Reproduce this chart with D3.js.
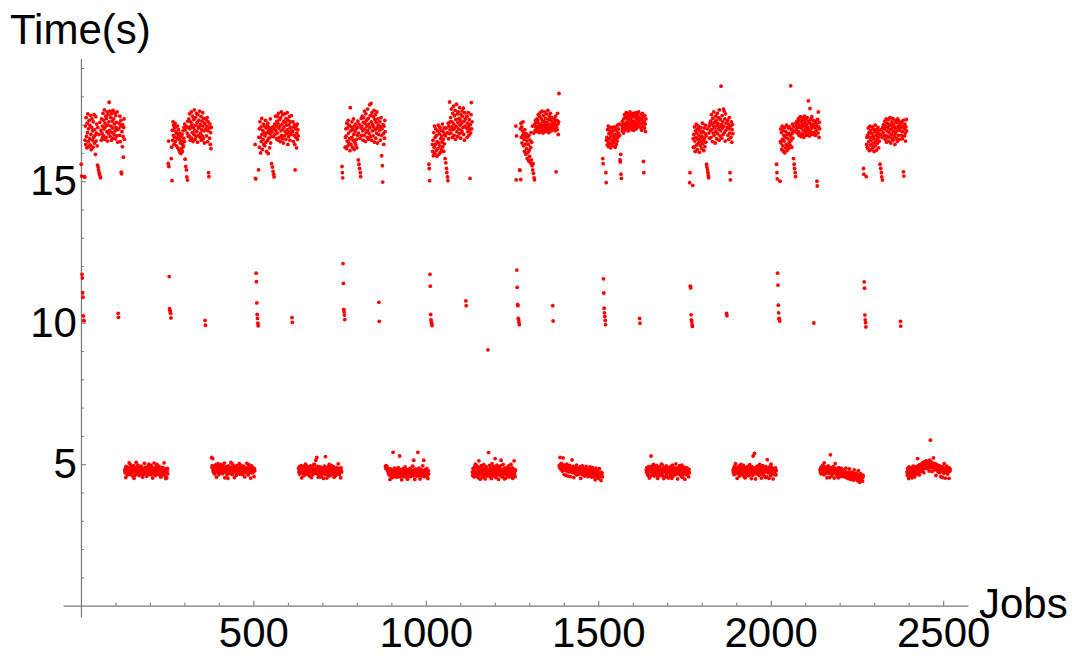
<!DOCTYPE html>
<html>
<head>
<meta charset="utf-8">
<script src="https://cdn.jsdelivr.net/npm/d3@7"></script>
<style>
  html, body { margin: 0; padding: 0; background: #fff; }
  svg { display: block; }
  text { font-family: "Liberation Sans", Arial, Helvetica, sans-serif; }
</style>
</head>
<body>
<svg id="chart" width="1072" height="658"></svg>
<script>
// Job runtimes (seconds). Jobs alternate between a slow batch (~16.5 s,
// with a few runs finishing near 15 s or 10 s) and a fast batch (~4.8 s).
// Each batch is 126 consecutive jobs; the first job number of each batch is listed.
const slowStartJob = [1, 253, 505, 757, 1009, 1261, 1513, 1765, 2017, 2269];
const fastStartJob = [127, 379, 631, 883, 1135, 1387, 1639, 1891, 2143, 2395];

const slowBatches = [
  [15.60,15.18,11.71,11.58,11.06,10.90,10.24,10.07,10.08,15.16,15.14,16.45,
   16.95,16.30,17.25,16.58,16.18,17.05,16.72,17.38,16.40,16.85,16.22,17.15,16.50,16.98,16.28,17.32,16.65,16.12,16.90,17.20,16.45,16.78,16.20,17.10,16.55,17.35,16.35,16.82,16.62,15.95,17.28,16.42,16.70,17.02,16.25,
   15.57,16.90,15.50,15.40,16.65,15.30,15.24,17.08,15.16,15.12,16.80,16.45,17.20,16.70,16.95,16.55,
   17.40,16.62,17.15,16.85,17.52,16.48,17.05,16.92,17.30,16.55,17.22,16.75,17.45,16.42,16.98,17.35,16.68,17.10,17.79,16.80,17.48,16.58,17.25,16.95,16.45,17.38,16.72,17.12,16.88,17.50,16.52,17.20,16.65,17.02,17.42,16.78,16.50,17.32,16.90,17.08,16.60,17.45,16.82,16.38,
   10.33,10.19,16.85,17.05,16.62,17.30,16.40,16.95,17.15,15.32,15.26,16.75,16.22,17.00,16.58,15.85,16.90,17.20,16.48],
  [15.63,16.42,15.52,11.63,10.50,10.44,10.38,10.33,10.17,15.80,16.20,15.02,
   16.80,16.45,17.10,16.62,16.98,16.30,16.88,16.55,17.05,16.40,16.75,16.92,16.25,16.68,16.50,16.95,16.18,16.60,16.82,16.10,16.48,16.70,16.02,16.35,16.58,15.98,16.42,16.15,16.65,16.05,16.30,16.78,16.22,16.52,16.90,16.40,17.02,
   15.78,16.82,15.52,16.95,15.40,15.15,16.70,15.04,17.12,16.58,16.90,
   17.20,16.60,17.38,16.85,16.45,17.10,16.95,17.45,16.52,17.02,16.72,17.30,16.40,16.90,17.18,16.65,17.52,16.80,16.48,17.25,16.98,16.58,17.40,16.75,17.08,16.38,17.35,16.88,16.62,17.15,16.92,17.48,16.55,17.00,16.70,17.28,16.45,16.82,17.12,16.60,17.42,16.95,16.50,17.22,16.78,16.35,17.05,
   10.08,9.91,16.85,17.18,16.60,16.95,17.25,16.40,16.78,17.10,15.30,15.16,16.88,16.52,17.02,16.30,16.72,16.15,16.90],
  [16.30,15.10,15.08,11.75,11.45,10.70,10.29,10.15,9.98,9.89,15.40,16.55,
   16.85,16.20,17.10,16.55,16.00,16.92,16.40,17.22,16.65,16.12,16.80,16.48,17.02,16.30,16.72,16.95,16.25,16.60,17.15,16.38,16.88,16.05,16.70,16.98,16.45,17.05,15.98,16.78,16.52,16.90,16.18,16.68,17.20,16.35,16.82,16.58,
   15.62,16.74,15.50,16.92,15.35,16.58,15.25,15.15,16.85,17.02,16.66,17.30,16.80,16.95,16.50,17.12,
   17.30,16.70,17.05,16.45,17.40,16.88,16.55,17.18,16.95,16.40,17.25,16.78,17.45,16.62,17.02,16.50,17.35,16.85,16.35,17.12,16.92,16.60,17.38,16.75,17.08,16.48,17.22,16.98,16.68,17.42,16.82,16.30,17.15,16.58,17.00,16.72,17.28,16.45,16.90,17.10,16.65,17.32,16.80,
   10.18,10.01,16.75,17.10,16.40,16.92,16.62,17.00,16.30,15.40,16.85,16.55,16.95,16.18,16.70,17.02,16.48,16.82,16.60],
  [15.52,15.30,15.12,12.09,11.39,10.47,10.38,10.27,10.11,16.20,16.55,16.85,
   16.60,16.15,17.05,16.42,16.88,16.25,17.15,16.70,16.35,16.98,16.50,16.08,17.60,16.78,16.30,16.92,16.55,17.10,16.20,16.82,16.45,17.20,16.65,16.12,16.95,16.38,16.75,17.02,16.28,16.85,16.48,16.18,16.90,16.62,17.12,
   15.75,16.70,15.60,17.00,15.45,16.52,15.30,15.16,16.88,17.22,16.62,16.95,17.30,16.78,16.45,17.08,
   17.25,16.62,17.48,16.85,17.05,16.40,17.38,16.72,17.15,16.95,16.55,17.55,16.80,17.22,16.48,17.02,16.68,17.70,16.90,17.32,16.58,17.75,17.10,16.45,17.42,16.78,17.00,16.60,17.28,16.92,17.50,16.38,17.18,16.82,17.35,16.52,17.08,16.70,17.45,16.88,16.35,17.20,16.98,16.65,
   10.72,10.05,16.80,17.10,16.45,16.92,17.25,16.62,15.90,16.85,15.55,14.97,17.00,16.68,16.30,16.95,16.52,17.15,16.75],
  [15.60,15.45,15.02,11.71,11.29,10.29,10.10,10.02,9.96,9.90,16.30,16.05,
   16.45,15.90,16.72,16.20,16.95,15.98,16.55,16.30,16.85,16.08,16.62,15.88,16.40,16.78,16.15,16.98,16.35,15.95,16.68,16.25,16.90,16.02,16.50,16.80,16.12,16.60,16.38,17.02,16.22,16.75,16.48,16.05,16.88,16.32,16.65,
   15.80,16.60,15.65,16.88,15.45,15.30,16.72,15.15,15.02,17.05,16.50,16.95,16.68,17.80,16.82,17.10,
   17.25,16.70,17.55,16.92,17.10,16.55,17.40,16.82,17.65,17.02,16.62,17.32,16.88,17.50,16.48,17.18,16.95,17.72,16.75,17.38,16.58,17.08,17.45,16.85,17.22,16.68,17.60,16.98,17.15,16.52,17.35,16.80,17.05,17.48,16.72,17.28,16.90,17.58,16.65,17.12,16.45,17.42,16.95,17.20,
   10.77,10.60,16.88,17.30,16.55,17.05,16.75,17.42,16.92,16.62,17.18,16.82,15.10,17.00,16.70,17.35,17.78,16.85,17.10],
  [16.95,15.05,16.60,11.86,11.25,10.65,10.60,10.15,10.10,10.02,9.93,15.40,
   15.38,16.85,15.06,17.05,16.55,16.92,16.35,16.78,16.62,17.10,16.25,16.70,16.48,16.05,16.82,16.30,16.58,15.95,16.68,16.15,16.42,15.80,16.55,16.02,16.30,15.72,16.62,16.10,15.88,16.45,15.65,16.20,16.72,15.75,16.38,
   15.55,16.95,15.40,15.62,15.28,16.70,15.12,15.05,17.02,16.80,17.15,16.92,17.08,16.75,17.20,16.88,
   17.15,16.82,17.35,16.95,17.05,16.72,17.28,16.88,17.42,17.00,16.78,17.20,16.92,17.48,16.85,17.10,16.70,17.32,16.98,17.12,16.80,17.45,16.90,17.22,17.02,16.75,17.38,16.95,17.08,16.82,17.50,16.88,17.18,16.72,17.30,17.00,16.85,17.40,16.98,17.15,16.78,17.25,16.92,17.05,
   10.60,10.06,17.05,16.85,17.22,16.98,17.12,16.78,17.30,17.00,15.33,16.90,17.15,16.82,17.40,17.02,16.65,17.10,18.10],
  [15.80,15.62,11.55,11.05,10.51,10.35,10.22,10.08,9.93,15.30,14.95,16.45,
   16.55,16.28,16.82,16.40,16.95,16.22,16.68,16.50,16.85,16.32,16.75,16.18,16.60,16.90,16.35,16.72,16.45,16.25,16.80,16.58,16.38,16.92,16.48,16.65,16.20,16.88,16.52,16.30,16.78,16.62,16.42,16.98,16.55,16.70,16.85,16.62,17.02,
   16.62,15.75,15.68,15.95,15.25,15.10,16.98,16.78,17.12,16.88,17.02,16.70,
   17.20,16.88,17.35,17.02,16.80,17.28,16.95,17.42,17.08,16.85,17.22,16.98,17.38,16.78,17.15,17.30,16.92,17.05,17.45,16.88,17.18,17.00,17.35,16.82,17.25,17.10,16.95,17.40,17.02,16.80,17.32,17.12,16.90,17.28,17.05,17.42,16.85,17.20,16.98,17.35,17.08,16.92,17.25,17.45,17.02,17.15,
   10.15,9.98,17.22,16.90,17.35,17.05,16.80,17.18,17.40,16.95,17.28,15.70,15.30,17.10,16.88,17.32,17.02,16.75,17.20],
  [14.95,15.30,11.29,11.23,10.28,10.10,10.04,9.93,9.87,14.85,16.50,16.20,
   16.65,16.20,16.92,16.42,16.05,16.78,16.55,17.02,16.28,16.70,16.12,16.85,16.48,16.95,16.35,16.62,16.02,16.80,16.50,16.25,16.90,16.40,16.72,16.15,16.58,17.05,16.32,16.75,16.45,16.08,16.88,16.52,16.22,16.68,16.98,16.38,16.60,
   15.60,15.50,16.85,15.40,15.30,15.20,15.12,16.70,16.95,16.52,17.05,16.80,
   17.12,16.55,17.35,16.82,17.02,16.40,17.22,16.70,16.95,17.45,16.62,17.08,16.88,16.35,17.30,16.75,17.15,16.50,16.98,17.40,16.68,17.05,16.85,17.25,16.45,17.52,16.92,16.60,17.18,16.78,18.36,17.00,16.52,17.32,16.88,17.10,16.65,17.55,16.95,17.48,16.72,17.20,16.42,17.38,16.80,17.05,
   10.33,10.25,16.90,17.15,16.62,17.02,16.48,16.85,17.25,16.70,15.30,15.05,16.95,16.55,17.10,16.38,16.82,17.00,16.68],
  [15.60,15.30,15.08,11.75,11.33,10.62,10.35,10.15,10.14,10.06,15.00,16.40,
   16.85,16.35,16.72,16.12,16.95,16.48,16.25,16.80,16.05,16.62,16.42,16.90,16.00,16.55,16.18,16.75,16.30,16.98,16.08,16.65,16.22,16.50,16.88,16.15,16.70,16.38,16.92,16.28,16.60,18.37,16.45,16.82,16.20,16.68,17.02,16.52,16.78,
   15.80,16.92,15.60,15.45,16.75,15.30,15.16,17.05,16.82,16.98,17.12,16.70,16.90,
   17.05,16.75,17.22,16.62,16.98,17.15,16.70,17.28,16.88,16.58,17.10,16.92,17.25,16.65,17.02,16.80,17.18,16.55,16.95,17.30,16.72,17.08,16.85,17.20,16.62,17.00,16.78,17.25,16.90,16.68,17.84,17.12,16.82,16.60,17.05,17.57,16.75,17.18,16.95,16.65,17.28,16.88,17.02,16.72,17.15,
   16.65,9.99,16.95,16.72,17.12,16.88,16.62,17.05,16.80,16.98,15.00,14.83,17.18,16.70,17.45,16.92,16.55,17.08,16.85],
  [15.45,15.25,11.44,11.22,10.27,10.10,10.00,9.85,15.16,16.30,16.55,16.20,
   16.62,16.15,16.88,16.40,16.72,16.08,16.55,16.95,16.28,16.80,16.45,16.12,16.68,16.92,16.32,16.58,16.20,16.85,16.50,16.05,16.75,16.38,16.98,16.25,16.62,16.82,16.10,16.48,16.70,16.35,16.90,16.55,16.18,16.78,16.42,16.65,
   15.60,16.65,15.45,16.82,15.30,15.15,16.55,15.04,16.90,16.72,17.00,16.60,16.85,
   16.85,17.12,16.48,16.95,16.62,17.20,16.38,16.78,17.05,16.55,16.90,17.18,16.42,16.72,17.00,16.58,17.25,16.82,16.35,16.98,16.65,17.10,16.50,16.88,17.22,16.45,16.75,17.02,16.60,16.92,16.30,17.15,16.70,16.85,16.52,17.08,16.78,16.40,17.20,16.95,16.62,16.88,17.12,16.48,16.80,17.02,
   10.05,9.88,16.90,16.62,17.08,16.75,16.50,16.95,17.15,15.33,15.18,16.85,16.60,17.02,16.70,16.42,16.92,17.18,16.78]
];

const fastBatches = [
  [4.78,4.70,4.85,4.53,4.92,4.74,4.81,4.62,4.77,4.88,4.69,4.83,4.72,5.05,4.76,4.64,4.98,4.79,4.71,4.90,4.67,4.80,4.75,4.58,4.84,4.73,4.95,4.50,4.82,4.77,4.61,4.87,4.74,5.06,4.70,4.79,4.85,4.65,4.97,4.91,4.72,4.83,4.60,4.78,4.88,4.69,4.81,4.75,4.93,4.66,4.80,4.73,4.54,4.62,4.77,4.84,4.70,5.03,4.79,4.67,4.89,4.74,4.82,4.71,4.57,4.85,4.76,4.92,4.68,4.80,5.00,4.87,4.64,4.79,4.83,4.70,4.96,4.75,4.62,4.84,4.78,4.51,4.88,4.72,4.81,5.04,4.66,4.77,4.85,4.60,4.74,4.90,4.71,4.99,4.67,4.86,4.76,4.83,4.63,4.79,4.92,4.70,4.82,4.74,4.55,4.87,4.56,4.68,4.84,4.72,4.89,4.65,4.80,4.76,5.05,4.69,4.83,4.58,4.74,4.49,4.71,4.79,4.52,4.77,4.85,4.66],
  [5.24,4.88,4.95,5.20,4.76,4.84,4.70,4.92,4.81,4.65,4.87,4.74,4.98,4.79,4.54,4.90,4.83,4.72,5.02,4.77,4.86,4.63,4.80,4.93,4.71,4.85,4.99,4.69,4.89,4.82,4.74,4.96,4.67,4.81,4.88,4.73,4.78,5.04,4.52,4.84,4.79,4.91,4.70,4.86,4.75,4.62,4.83,4.50,4.77,4.94,4.72,4.85,4.80,4.68,4.89,4.76,5.06,4.73,4.82,4.64,4.87,5.00,4.92,4.70,4.84,4.75,4.53,4.90,4.81,4.73,4.86,4.60,4.79,4.95,4.71,4.83,4.77,4.68,4.88,4.74,5.02,4.80,4.65,4.85,4.97,4.91,4.69,4.82,4.74,4.87,4.63,4.79,4.93,4.72,4.84,4.77,4.55,4.89,4.80,4.71,4.86,4.75,5.03,4.68,4.82,4.78,4.62,4.90,4.98,4.85,4.79,4.70,4.88,4.51,4.81,4.76,4.94,4.72,4.84,4.69,4.80,4.87,4.74,4.56,4.83,4.77],
  [4.84,4.72,4.90,4.65,4.79,4.86,4.70,4.95,4.76,4.52,4.81,4.88,4.68,4.74,4.92,4.78,4.60,4.85,4.71,4.83,5.00,4.97,4.66,4.80,4.73,4.87,4.64,4.79,4.90,4.69,4.82,4.76,4.58,4.86,4.72,4.94,4.78,4.53,4.84,4.74,4.89,4.63,4.80,4.71,4.98,4.77,4.99,4.68,4.82,4.75,5.14,4.73,4.87,5.24,4.66,4.81,4.92,4.54,4.78,4.61,4.84,4.76,4.90,4.69,4.83,4.55,4.79,4.72,4.88,4.65,4.81,4.74,4.50,4.86,4.70,4.93,4.77,4.64,5.27,4.82,4.73,4.89,4.51,4.79,4.85,4.62,4.76,4.91,4.71,4.99,4.58,4.80,4.74,4.87,4.68,4.78,4.95,4.72,4.84,4.63,4.81,4.75,4.90,4.54,4.79,4.86,4.70,4.82,4.60,4.77,4.88,4.73,4.84,4.67,4.80,5.01,4.71,4.78,4.64,4.85,4.74,4.82,4.52,4.87,4.76,4.72],
  [4.92,4.86,4.95,4.88,4.83,4.90,4.78,4.85,4.72,4.66,4.80,4.62,4.74,4.46,4.69,4.83,4.60,4.76,4.52,4.70,4.64,4.79,5.42,4.67,4.55,4.73,4.86,4.61,4.71,4.58,4.77,4.65,4.82,4.54,4.68,4.75,4.60,4.88,4.63,4.72,4.56,5.29,4.70,4.81,4.59,4.66,4.74,4.45,4.78,4.64,4.69,4.84,4.57,4.73,4.62,4.76,4.67,4.90,4.55,4.71,4.80,4.60,4.68,4.75,4.47,4.82,4.65,4.72,4.58,4.77,4.63,4.85,4.70,4.56,4.74,4.66,4.79,4.61,4.69,4.93,4.59,4.73,5.14,4.64,4.78,4.46,4.71,4.83,4.62,4.68,4.75,4.57,4.80,4.66,5.42,4.72,4.60,4.86,4.65,4.77,4.48,4.70,4.82,4.63,4.74,4.58,4.79,4.67,4.94,4.61,4.72,5.14,4.69,4.56,4.76,4.64,4.81,4.60,4.73,4.67,4.84,4.58,4.70,4.49,4.77,4.65],
  [4.72,4.60,4.85,4.66,4.78,4.55,4.90,4.69,4.63,5.00,4.74,4.58,4.87,4.67,4.93,4.61,4.76,4.52,4.83,5.12,4.70,4.64,4.88,4.47,4.79,4.68,4.95,4.62,4.73,4.54,4.84,4.66,4.77,4.98,4.60,4.71,4.86,4.48,4.75,4.65,4.91,4.69,4.80,4.58,4.74,9.04,4.63,5.41,4.82,4.67,4.96,4.72,4.55,4.87,4.70,4.49,4.79,5.02,4.66,4.84,4.59,4.76,4.92,4.64,4.73,4.88,5.20,4.68,4.53,4.81,4.71,4.97,4.62,4.78,4.66,4.89,4.46,4.75,4.85,4.63,4.72,4.94,4.60,5.14,4.69,4.80,4.55,4.77,4.65,4.99,4.62,4.74,4.86,4.48,4.70,4.83,4.67,4.51,4.79,4.64,4.88,4.72,4.59,4.76,4.93,4.66,4.81,4.55,4.73,4.85,4.61,4.70,4.99,4.63,4.78,4.57,4.87,4.50,4.75,4.60,4.82,5.12,4.66,4.74,4.56,4.80],
  [4.95,4.88,5.24,4.99,4.84,4.92,4.80,5.03,4.87,4.76,4.94,5.22,4.82,4.90,4.64,4.97,4.85,4.79,4.93,4.61,4.88,4.81,5.00,4.75,4.86,4.58,4.91,4.78,4.84,4.72,4.96,4.80,4.56,4.87,4.74,4.89,4.77,5.15,4.83,4.70,4.92,4.76,4.53,4.85,4.79,4.71,4.88,4.67,4.82,4.74,4.97,4.62,4.78,4.84,4.69,4.81,4.73,4.87,4.65,4.80,4.75,4.91,4.50,4.77,4.83,4.68,4.72,4.94,4.63,4.79,4.70,4.84,4.66,4.58,4.76,4.81,4.64,4.73,4.92,4.61,4.78,4.69,4.82,4.56,4.74,4.67,4.80,4.62,4.71,4.90,4.59,4.75,4.66,4.79,4.54,4.70,4.88,4.63,4.72,4.57,4.68,4.77,4.60,4.74,4.45,4.65,4.86,4.58,4.69,4.62,4.75,4.55,4.67,4.71,4.50,4.64,4.84,4.57,4.66,4.60,4.72,4.42,4.63,4.58,4.69,4.55],
  [4.80,4.72,4.88,4.65,4.77,4.84,4.60,4.91,4.74,4.51,4.86,4.79,4.57,4.82,5.29,4.70,4.93,4.63,4.76,4.85,4.67,4.99,4.73,4.58,4.89,4.71,4.78,4.62,4.84,4.75,4.96,4.66,4.81,4.50,4.55,4.87,4.74,4.64,4.79,4.90,4.70,4.83,4.61,4.76,5.00,4.68,4.98,4.73,4.59,4.82,4.77,4.49,4.89,4.72,4.80,4.56,4.85,4.70,4.94,4.63,4.78,4.74,4.88,4.53,4.81,4.52,4.76,4.86,4.69,4.73,4.91,4.60,4.79,4.84,4.50,4.75,4.97,4.71,4.58,4.83,4.77,4.68,4.87,4.62,4.80,4.74,5.01,4.65,4.78,4.85,4.70,4.48,4.82,4.76,4.89,4.64,4.73,4.95,4.67,4.80,4.61,4.84,4.72,4.97,4.54,4.86,4.69,4.75,4.90,4.63,4.81,4.71,4.47,4.83,4.76,4.66,4.88,4.73,4.62,4.79,4.85,4.68,4.74,4.56,4.82,4.70],
  [4.78,4.70,4.86,4.63,4.92,4.75,4.81,5.02,4.67,4.84,4.72,4.89,4.50,4.79,4.85,4.68,4.76,4.94,4.58,4.82,4.71,4.87,4.65,4.99,4.74,4.90,4.62,4.83,4.77,4.69,4.96,4.73,4.56,4.85,4.78,4.52,4.88,4.71,4.81,4.64,4.75,4.91,4.68,4.84,4.59,4.79,4.87,4.72,4.98,4.63,4.80,4.74,4.86,4.49,4.92,4.70,4.82,4.61,5.29,4.77,4.85,4.69,5.38,4.76,4.83,4.48,4.89,4.72,4.80,4.65,4.93,4.74,4.68,4.86,4.78,4.60,4.84,4.99,4.90,4.66,4.79,4.87,4.51,4.75,4.82,4.70,4.95,4.64,4.81,4.73,4.88,4.58,4.77,4.84,4.53,4.91,4.72,4.80,4.55,5.16,4.76,4.86,4.69,4.83,4.50,4.78,4.90,4.71,4.85,4.60,5.00,4.82,4.66,4.88,4.70,4.79,4.48,4.84,4.73,4.64,4.81,4.75,4.68,4.87,4.62,4.78],
  [4.80,4.72,4.88,4.66,4.84,4.76,4.92,4.69,4.96,4.74,4.87,4.63,5.05,4.78,4.70,4.85,4.67,4.90,4.75,4.82,4.52,4.79,4.86,4.71,4.94,4.68,4.77,4.83,4.53,4.73,5.33,4.88,4.70,4.80,4.59,4.84,4.75,4.66,4.91,4.72,4.78,4.51,4.86,4.69,5.02,4.74,4.81,4.65,4.77,4.58,4.83,4.70,4.75,4.52,4.88,4.67,4.72,4.79,4.60,4.84,4.71,4.66,4.85,4.56,4.81,4.69,4.73,4.62,4.78,4.58,4.67,4.74,4.55,4.70,4.63,4.86,4.57,4.68,4.52,4.72,4.61,4.65,4.49,4.70,4.58,4.83,4.54,4.63,4.67,4.46,4.60,4.71,4.55,4.64,4.50,4.69,4.58,4.44,4.62,4.80,4.53,4.66,4.57,4.48,4.61,4.68,4.52,4.59,4.42,4.64,4.56,4.77,4.51,4.60,4.47,4.36,4.55,4.67,4.45,4.58,4.62,4.50,4.57,4.40,4.54,4.60],
  [4.72,4.60,4.85,4.66,4.78,4.49,4.90,4.69,4.63,4.81,4.74,4.58,4.87,4.68,4.77,4.52,4.84,4.71,4.93,4.65,4.80,4.57,4.55,4.88,4.70,4.83,4.64,4.91,4.73,4.86,4.79,5.20,4.68,4.95,4.75,4.84,4.62,4.98,4.81,4.89,4.74,4.92,4.86,5.02,4.78,4.95,4.83,5.06,4.88,4.70,5.00,4.91,5.08,4.85,4.97,5.12,4.89,5.03,4.94,4.86,5.10,4.98,4.90,5.05,4.76,4.96,5.14,4.92,5.85,5.01,4.87,5.07,4.95,4.74,5.04,4.93,4.88,5.22,4.99,4.85,4.96,4.80,5.02,4.89,4.60,4.94,4.84,4.98,4.78,4.91,4.73,4.87,4.82,4.95,4.70,4.85,4.79,4.92,4.56,4.83,4.88,4.75,4.81,4.53,4.90,4.77,4.85,4.68,5.02,4.74,4.82,4.51,4.87,4.79,4.71,4.93,4.76,4.84,4.65,4.89,4.73,4.80,4.50,4.86,4.75,4.82]
];

const xMajorTicks = [500, 1000, 1500, 2000, 2500];
const yMajorTicks = [5, 10, 15];

// Flatten batches into (job, seconds) records.
function batchPoints(starts, batches) {
  return batches.flatMap((times, b) => times.map((t, i) => ({ job: starts[b] + i, t })));
}
const points = batchPoints(slowStartJob, slowBatches).concat(batchPoints(fastStartJob, fastBatches));

const svg = d3.select("#chart");
svg.append("rect").attr("width", 1072).attr("height", 658).attr("fill", "#fff");

const x = d3.scaleLinear().domain([-52, 2572]).range([63, 968]);
const y = d3.scaleLinear().domain([-0.4, 19.34]).range([617, 58.4]);

const axisColor = "#7a7a7a";
const labelSize = "42px";

// minor ticks every 100 jobs and every 1 s
const xMinor = d3.range(100, 2600, 100).filter(v => v % 500 !== 0);
const yMinor = d3.range(1, 20, 1).filter(v => v % 5 !== 0);

function styleAxis(g) {
  g.select(".domain").attr("stroke", axisColor).attr("stroke-width", 1.2);
  g.selectAll(".tick line").attr("stroke", axisColor).attr("stroke-width", 1.1);
  g.selectAll(".tick text")
    .attr("fill", "#000")
    .style("font-family", "'Liberation Sans', Arial, Helvetica, sans-serif")
    .style("font-size", labelSize);
}

// x axis
svg.append("g")
  .attr("transform", `translate(0,${y(0)})`)
  .call(d3.axisBottom(x).tickValues(xMinor).tickSizeInner(-3).tickSizeOuter(0).tickFormat(""))
  .call(g => g.select(".domain").remove())
  .call(styleAxis);
svg.append("g")
  .attr("transform", `translate(0,${y(0)})`)
  .call(d3.axisBottom(x).tickValues(xMajorTicks).tickSizeInner(-5).tickSizeOuter(0).tickPadding(12).tickFormat(d3.format("d")))
  .call(styleAxis);

// y axis
svg.append("g")
  .attr("transform", `translate(${x(0)},0)`)
  .call(d3.axisLeft(y).tickValues(yMinor).tickSizeInner(-3).tickSizeOuter(0).tickFormat(""))
  .call(g => g.select(".domain").remove())
  .call(styleAxis);
svg.append("g")
  .attr("transform", `translate(${x(0)},0)`)
  .call(d3.axisLeft(y).tickValues(yMajorTicks).tickSizeInner(-5).tickSizeOuter(0).tickPadding(4).tickFormat(d3.format("d")))
  .call(styleAxis);

// axis titles
svg.append("text")
  .attr("x", 10).attr("y", 44)
  .style("font-size", labelSize).attr("fill", "#000")
  .text("Time(s)");
svg.append("text")
  .attr("x", 979).attr("y", 618)
  .style("font-size", labelSize).attr("fill", "#000")
  .text("Jobs");

// job runtimes
svg.append("g")
  .selectAll("circle")
  .data(points)
  .join("circle")
  .attr("cx", d => x(d.job))
  .attr("cy", d => y(d.t))
  .attr("r", 1.9)
  .attr("fill", "#ff0000");
</script>
</body>
</html>
